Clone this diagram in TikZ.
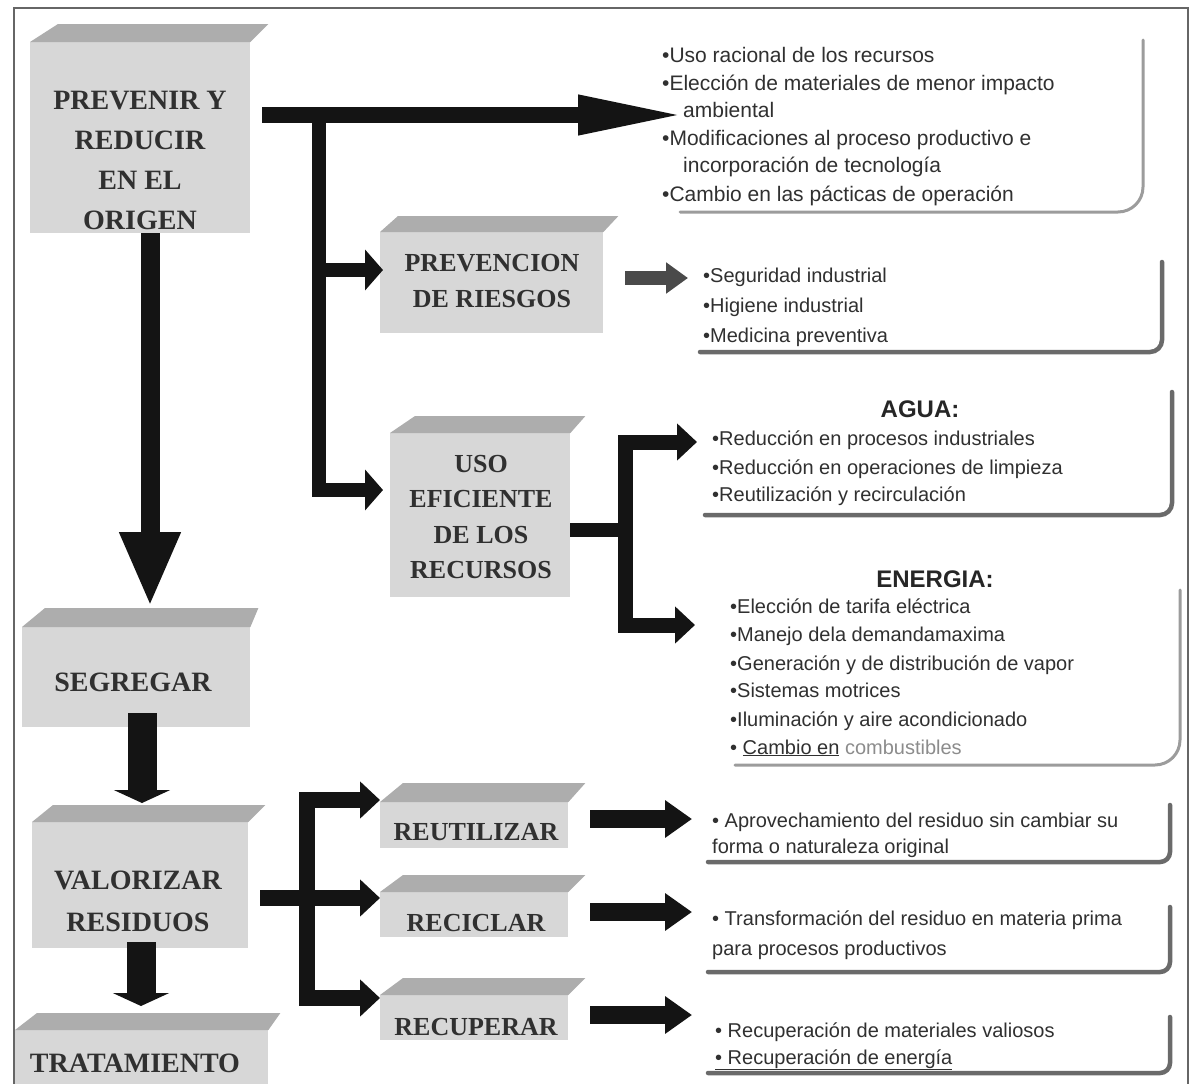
\documentclass[tikz,border=0pt]{standalone}
\usepackage{fontspec}
\setmainfont{Liberation Serif}
\setsansfont{Liberation Sans}
\usetikzlibrary{arrows.meta}
\definecolor{ink}{HTML}{141414}
\definecolor{txt}{HTML}{303030}
\definecolor{frontc}{HTML}{D7D7D7}
\definecolor{topc}{HTML}{ADADAD}
\definecolor{frm}{HTML}{6A6A6A}
\definecolor{frml}{HTML}{9C9C9C}
\definecolor{arrg}{HTML}{4A4A4A}
\newcommand\topface[4]{\fill[topf] (#1.north west) -- ++(#2,-#4) -- ([xshift=#3pt,yshift=#4pt]#1.north east) -- (#1.north east) -- cycle;}
\newcommand\lix[3]{\node[li] (#1) at #2 {#3};}
\begin{document}
\begin{tikzpicture}[x=1pt,y=-1pt,
  box/.style={fill=frontc, draw=none, inner sep=0, anchor=north west},
  topf/.style={fill=topc},
  lbl/.style={font=\fontsize{28}{40}\selectfont\bfseries, text=txt, align=center, inner sep=0},
  lbls/.style={font=\fontsize{26}{35.5}\selectfont\bfseries, text=txt, align=center, inner sep=0},
  li/.style={font=\sffamily\fontsize{20}{24}\selectfont, text=txt, anchor=base west, inner sep=0},
  hd/.style={font=\sffamily\bfseries\fontsize{24}{28}\selectfont, text=black!85, anchor=base, inner sep=0},
  bk/.style={draw=ink, line join=miter},
  frame/.style={draw=frm, line width=4.5pt, line cap=round},
  framel/.style={draw=frml, line width=3pt, line cap=round},
]
\useasboundingbox (0,0) rectangle (1192,1084);
\fill[white] (0,0) rectangle (1192,1084);
% outer border
\draw[line width=1.5pt, draw=black!60] (14,1090) -- (14,8) -- (1188,8) -- (1188,1090);

% 3D boxes
\node[box, minimum width=220pt, minimum height=191pt] (prev) at (30,42) {};
\topface{prev}{28}{18}{18}
\node[box, minimum width=223pt, minimum height=101pt] (prevr) at (380,232) {};
\topface{prevr}{18}{15}{16}
\node[box, minimum width=180pt, minimum height=164pt] (uso) at (390,433) {};
\topface{uso}{25}{15}{17}
\node[box, minimum width=228pt, minimum height=100pt] (seg) at (22,627) {};
\topface{seg}{23}{8}{19}
\node[box, minimum width=216pt, minimum height=126pt] (val) at (32,822) {};
\topface{val}{21}{17}{17}
\node[box, minimum width=253pt, minimum height=70pt] (trat) at (15,1030) {};
\topface{trat}{22}{12}{17}
\node[box, minimum width=188pt, minimum height=46pt] (reut) at (380,802) {};
\topface{reut}{23}{17}{19}
\node[box, minimum width=188pt, minimum height=45pt] (reci) at (380,892) {};
\topface{reci}{23}{17}{17}
\node[box, minimum width=188pt, minimum height=45pt] (recu) at (380,995) {};
\topface{recu}{23}{17}{17}

% box labels
\node[lbl] (tprev) at (140,160) {PREVENIR Y\\REDUCIR\\EN EL\\ORIGEN};
\node[lbls] (tprevr) at (492,281) {PREVENCION\\DE RIESGOS};
\node[lbls] (tuso) at (481,517) {USO\\EFICIENTE\\DE LOS\\RECURSOS};
\node[lbl] (tseg) at (133,682) {SEGREGAR};
\node[lbl, font=\fontsize{28}{42}\selectfont\bfseries] (tval) at (138,901) {VALORIZAR\\RESIDUOS};
\node[lbl] (ttrat) at (135,1063) {TRATAMIENTO};
\node[lbls] (treut) at (476,832) {REUTILIZAR};
\node[lbls] (treci) at (476,923) {RECICLAR};
\node[lbls] (trecu) at (476,1027) {RECUPERAR};

% coordinates for connector ends
\coordinate (h0) at (262,115);
\coordinate (h1) at (687,115);
\coordinate (v0) at (319,108);
\coordinate (aprevr) at (383,270);
\coordinate (bprevr) at (319,270);
\coordinate (auso) at (383,490);
\coordinate (d0) at (150,233);
\coordinate (d1) at (150,607);
\coordinate (s0) at (142,713);
\coordinate (s1) at (142,803);
\coordinate (t0) at (141,942);
\coordinate (t1) at (141,1006);
\coordinate (b0) at (260,898);
\coordinate (bm) at (307,898);
\coordinate (areut) at (380,800);
\coordinate (areci) at (380,898);
\coordinate (arecu) at (380,998);
\coordinate (u0) at (570,530);
\coordinate (um) at (625,530);
\coordinate (uagua) at (697,442);
\coordinate (uener) at (695,625);
\coordinate (p0) at (625,278);
\coordinate (p1) at (688,278);
\coordinate (r0) at (590,819);
\coordinate (r1) at (692,819);
\coordinate (c0) at (590,912);
\coordinate (c1) at (692,912);
\coordinate (e0) at (590,1015);
\coordinate (e1) at (692,1015);

% arrows
\draw[bk, line width=16pt, -{Triangle[length=109pt,width=36pt]}] (h0) -- (h1);
\draw[bk, line width=14pt, -{Triangle[length=18pt,width=40pt]}] (v0) |- (auso);
\draw[bk, line width=14pt, -{Triangle[length=18pt,width=40pt]}] (bprevr) -- (aprevr);
\draw[bk, line width=19pt, -{Triangle[length=75pt,width=56pt]}] (d0) -- (d1);
\draw[bk, line width=29pt, -{Triangle[length=13pt,width=56pt]}] (s0) -- (s1);
\draw[bk, line width=29pt, -{Triangle[length=13pt,width=56pt]}] (t0) -- (t1);
\draw[bk, line width=16pt, -{Triangle[length=20pt,width=36pt]}] (b0) -- (areci);
\draw[bk, line width=16pt, -{Triangle[length=20pt,width=36pt]}] (bm) |- (areut);
\draw[bk, line width=16pt, -{Triangle[length=20pt,width=36pt]}] (bm) |- (arecu);
\draw[bk, line width=14pt] (u0) -- (um);
\draw[bk, line width=15pt, -{Triangle[length=20pt,width=36pt]}] (um) |- (uagua);
\draw[bk, line width=15pt, -{Triangle[length=20pt,width=36pt]}] (um) |- (uener);
\draw[draw=arrg, line width=14pt, -{Triangle[length=22pt,width=30pt]}] (p0) -- (p1);
\draw[bk, line width=18pt, -{Triangle[length=27pt,width=36pt]}] (r0) -- (r1);
\draw[bk, line width=18pt, -{Triangle[length=27pt,width=36pt]}] (c0) -- (c1);
\draw[bk, line width=18pt, -{Triangle[length=27pt,width=36pt]}] (e0) -- (e1);

% text frames
\draw[framel, rounded corners=25pt] (680,212) -- (1143,212) -- (1143,40);
\draw[frame, rounded corners=12pt] (700,352) -- (1162,352) -- (1162,262);
\draw[frame, rounded corners=12pt] (705,515) -- (1172,515) -- (1172,392);
\draw[framel, rounded corners=25pt] (735,765) -- (1180,765) -- (1180,590);
\draw[frame, rounded corners=10pt] (708,862) -- (1170,862) -- (1170,805);
\draw[frame, rounded corners=10pt] (708,972) -- (1170,972) -- (1170,907);
\draw[frame, rounded corners=10pt] (708,1073) -- (1170,1073) -- (1170,1017);

% list texts
\begin{scope}[li/.append style={font=\sffamily\fontsize{21}{24}\selectfont}]
\lix{a1}{(662,62)}{•Uso racional de los recursos}
\lix{a2}{(662,90)}{•Elección de materiales de menor impacto}
\lix{a3}{(683,117)}{ambiental}
\lix{a4}{(662,145)}{•Modificaciones al proceso productivo e}
\lix{a5}{(683,172)}{incorporación de tecnología}
\lix{a6}{(662,201)}{•Cambio en las pácticas de operación}
\end{scope}
\lix{b1}{(703,282)}{•Seguridad industrial}
\lix{b2}{(703,312)}{•Higiene industrial}
\lix{b3}{(703,342)}{•Medicina preventiva}
\node[hd] (hagua) at (920,417) {AGUA:};
\lix{c1t}{(712,445)}{•Reducción en procesos industriales}
\lix{c2t}{(712,474)}{•Reducción en operaciones de limpieza}
\lix{c3t}{(712,501)}{•Reutilización y recirculación}
\node[hd] (hener) at (935,587) {ENERGIA:};
\lix{d1t}{(730,613)}{•Elección de tarifa eléctrica}
\lix{d2t}{(730,641)}{•Manejo dela demandamaxima}
\lix{d3t}{(730,670)}{•Generación y de distribución de vapor}
\lix{d4t}{(730,697)}{•Sistemas motrices}
\lix{d5t}{(730,726)}{•Iluminación y aire acondicionado}
\lix{d6t}{(730,754)}{• \underline{Cambio en} \textcolor{black!45}{combustibles}}
\lix{e1t}{(712,827)}{• Aprovechamiento del residuo sin cambiar su}
\lix{e2t}{(712,853)}{forma o naturaleza original}
\lix{f1t}{(712,925)}{• Transformación del residuo en materia prima}
\lix{f2t}{(712,955)}{para procesos productivos}
\lix{g1t}{(715,1037)}{• Recuperación de materiales valiosos}
\lix{g2t}{(715,1064)}{\underline{• Recuperación de energía}}
\end{tikzpicture}
\end{document}
